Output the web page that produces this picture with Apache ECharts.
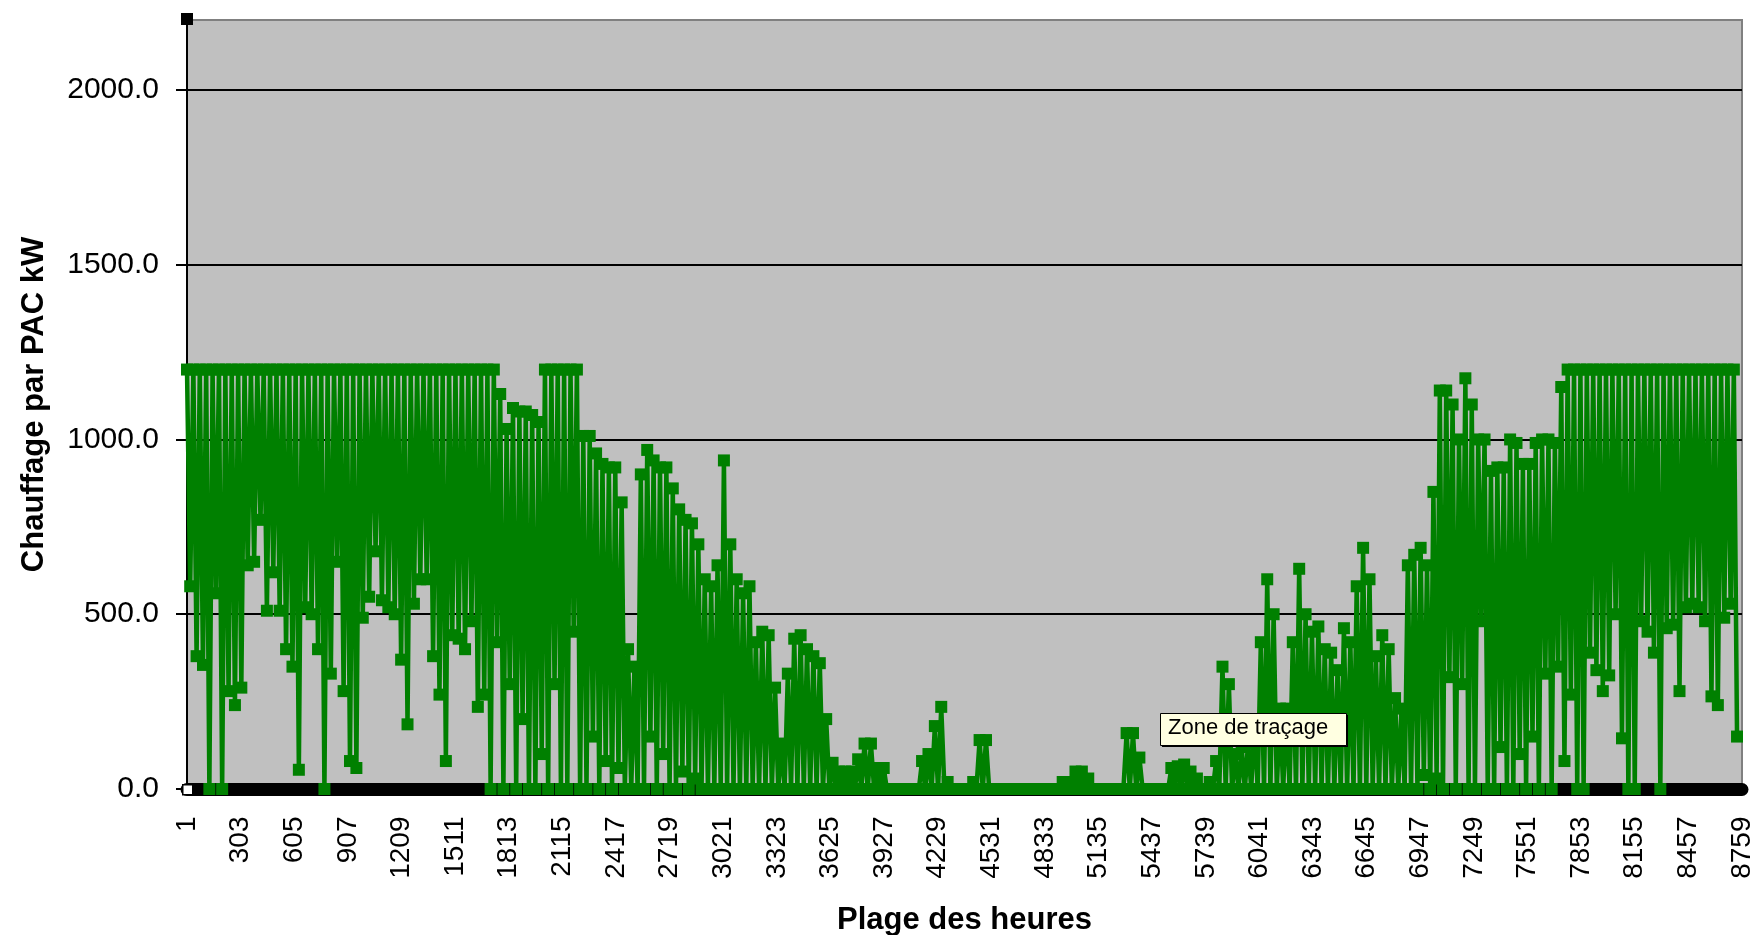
<!DOCTYPE html>
<html>
<head>
<meta charset="utf-8">
<script src="https://cdn.jsdelivr.net/npm/echarts@6/dist/echarts.min.js"></script>
<style>
  html, body { margin: 0; padding: 0; background: #fff; }
  #chart { width: 1758px; height: 935px; }
</style>
</head>
<body>
<div id="chart"></div>
<script>
// hour labels shown on the category axis
var hourLabels = [1, 303, 605, 907, 1209, 1511, 1813, 2115, 2417, 2719, 3021, 3323, 3625, 3927, 4229,
    4531, 4833, 5135, 5437, 5739, 6041, 6343, 6645, 6947, 7249, 7551, 7853, 8155, 8457, 8759];

// readings every 36 h : peak of the block, then low of the block (kW)
var firstHour = 1;
var stepHours = 36;
var peakVals = [
    1200, 1200, 1200, 1200, 1200, 1200, 1200, 1200, 1200, 1200,
    1200, 1200, 1200, 1200, 1200, 1200, 1200, 1200, 1200, 1200,
    1200, 1200, 1200, 1200, 1200, 1200, 1200, 1200, 1200, 1200,
    1200, 1200, 1200, 1200, 1200, 1200, 1200, 1200, 1200, 1200,
    1200, 1200, 1200, 1200, 1200, 1200, 1200, 1200, 1200, 1130,
    1030, 1090, 1080, 1080, 1070, 1050, 1200, 1200, 1200, 1200,
    1200, 1200, 1010, 1010, 960, 930, 920, 920, 820, 400,
    350, 900, 970, 940, 920, 920, 860, 800, 770, 760,
    700, 600, 580, 640, 940, 700, 600, 560, 580, 420,
    450, 440, 290, 130, 330, 430, 440, 400, 380, 360,
    200, 75, 50, 50, 50, 85, 130, 130, 60, 60,
    0, 0, 0, 0, 0, 80, 100, 180, 235, 20,
    0, 0, 0, 20, 140, 140, 0, 0, 0, 0,
    0, 0, 0, 0, 0, 0, 0, 20, 20, 50,
    50, 30, 0, 0, 0, 0, 0, 160, 160, 90,
    0, 0, 0, 0, 60, 65, 70, 50, 30, 0,
    20, 80, 350, 300, 100, 120, 130, 200, 420, 600,
    500, 230, 230, 420, 630, 500, 450, 465, 400, 390,
    340, 460, 420, 580, 690, 600, 380, 440, 400, 260,
    230, 640, 670, 690, 640, 850, 1140, 1140, 1100, 1000,
    1175, 1100, 1000, 1000, 910, 920, 920, 1000, 990, 930,
    930, 990, 1000, 1000, 990, 1150, 1200, 1200, 1200, 1200,
    1200, 1200, 1200, 1200, 1200, 1200, 1200, 1200, 1200, 1200,
    1200, 1200, 1200, 1200, 1200, 1200, 1200, 1200, 1200, 1200,
    1200, 1200, 1200
];
var lowVals = [
    580, 380, 355, 0, 560, 0, 280, 240, 290, 640,
    650, 770, 510, 620, 510, 400, 350, 55, 520, 500,
    400, 0, 330, 650, 280, 80, 60, 490, 550, 680,
    540, 520, 500, 370, 185, 530, 600, 600, 380, 270,
    80, 440, 430, 400, 480, 235, 270, 0, 420, 0,
    300, 0, 200, 0, 0, 100, 0, 300, 0, 0,
    450, 0, 0, 150, 0, 80, 0, 60, 0, 0,
    0, 0, 150, 0, 100, 0, 0, 50, 0, 30,
    0, 0, 0, 0, 0, 0, 0, 0, 0, 0,
    0, 0, 0, 0, 0, 0, 0, 0, 0, 0,
    0, 0, 0, 0, 0, 0, 0, 0, 0, 0,
    0, 0, 0, 0, 0, 0, 0, 0, 0, 0,
    0, 0, 0, 0, 0, 0, 0, 0, 0, 0,
    0, 0, 0, 0, 0, 0, 0, 0, 0, 0,
    0, 0, 0, 0, 0, 0, 0, 0, 0, 0,
    0, 0, 0, 0, 0, 0, 0, 0, 0, 0,
    0, 0, 0, 0, 0, 0, 0, 0, 0, 0,
    0, 0, 0, 0, 0, 0, 0, 0, 0, 0,
    0, 0, 0, 0, 0, 0, 0, 0, 0, 0,
    0, 0, 0, 40, 0, 30, 0, 320, 0, 300,
    0, 0, 480, 0, 0, 120, 0, 0, 100, 0,
    150, 0, 330, 0, 350, 80, 270, 0, 0, 390,
    340, 280, 325, 500, 145, 0, 0, 480, 450, 390,
    0, 460, 470, 280, 520, 530, 520, 480, 265, 240,
    490, 530, 150
];

var chart = echarts.init(document.getElementById('chart'));

var pts = [];
peakVals.forEach(function (v, i) {
    var h = firstHour + i * stepHours;
    pts.push([h, v]);
    pts.push([h + stepHours / 2, lowVals[i]]);
});

var FONT = 'Liberation Sans, Arial, sans-serif';

var option = {
    animation: false,
    backgroundColor: '#ffffff',
    grid: {
        left: 187, right: 16, top: 20, bottom: 146,
        outerBoundsMode: 'none',
        show: true,
        backgroundColor: '#c0c0c0',
        borderColor: '#808080',
        borderWidth: 2
    },
    xAxis: {
        type: 'value',
        min: 1,
        max: 8759,
        offset: 6.5,
        name: 'Plage des heures',
        nameLocation: 'middle',
        nameGap: 109,
        nameTextStyle: { fontFamily: FONT, fontWeight: 'bold', fontSize: 31, color: '#000' },
        axisLine: { show: true, lineStyle: { color: '#000', width: 13 } },
        axisTick: { show: false },
        splitLine: { show: false },
        axisLabel: {
            customValues: hourLabels,
            rotate: 90,
            align: 'right',
            verticalAlign: 'middle',
            margin: 21,
            fontFamily: FONT,
            fontSize: 28,
            color: '#000',
            formatter: function (v) { return String(v); }
        }
    },
    yAxis: {
        type: 'value',
        min: 0,
        max: 2200,
        interval: 500,
        name: 'Chauffage par PAC kW',
        nameLocation: 'middle',
        nameGap: 137,
        nameTextStyle: { fontFamily: FONT, fontWeight: 'bold', fontSize: 31, color: '#000' },
        axisLine: { show: true, lineStyle: { color: '#000', width: 2 } },
        axisTick: { show: true, length: 11, lineStyle: { color: '#000', width: 2 } },
        splitLine: { show: true, showMaxLine: false, lineStyle: { color: '#000', width: 2 } },
        axisLabel: {
            margin: 28,
            showMaxLabel: false,
            fontFamily: FONT,
            fontSize: 30,
            color: '#000',
            formatter: function (v) { return v.toFixed(1); }
        }
    },
    series: [{
        type: 'line',
        data: pts,
        clip: false,
        showAllSymbol: true,
        symbol: 'rect',
        symbolSize: 12,
        z: 2,
        lineStyle: { color: '#008000', width: 4.5, join: 'bevel' },
        itemStyle: { color: '#008000' }
    }],
    graphic: [
        { type: 'rect', left: 181, top: 13, z: 100, shape: { width: 12, height: 12 }, style: { fill: '#000' } },
        { type: 'rect', left: 182, top: 784, z: 100, shape: { width: 10, height: 10 }, style: { fill: '#fff', stroke: '#000', lineWidth: 1.5 } },
        { type: 'rect', left: 1162, top: 715, z: 100, shape: { width: 186, height: 32 }, style: { fill: '#000' } },
        { type: 'rect', left: 1160, top: 713, z: 101, shape: { width: 186, height: 32 }, style: { fill: '#ffffe1', stroke: '#000', lineWidth: 1 } },
        { type: 'text', left: 1168, top: 717, z: 102, style: { text: 'Zone de traçage', fontFamily: FONT, fontSize: 22, fill: '#000' } }
    ]
};

chart.setOption(option);
</script>
</body>
</html>
